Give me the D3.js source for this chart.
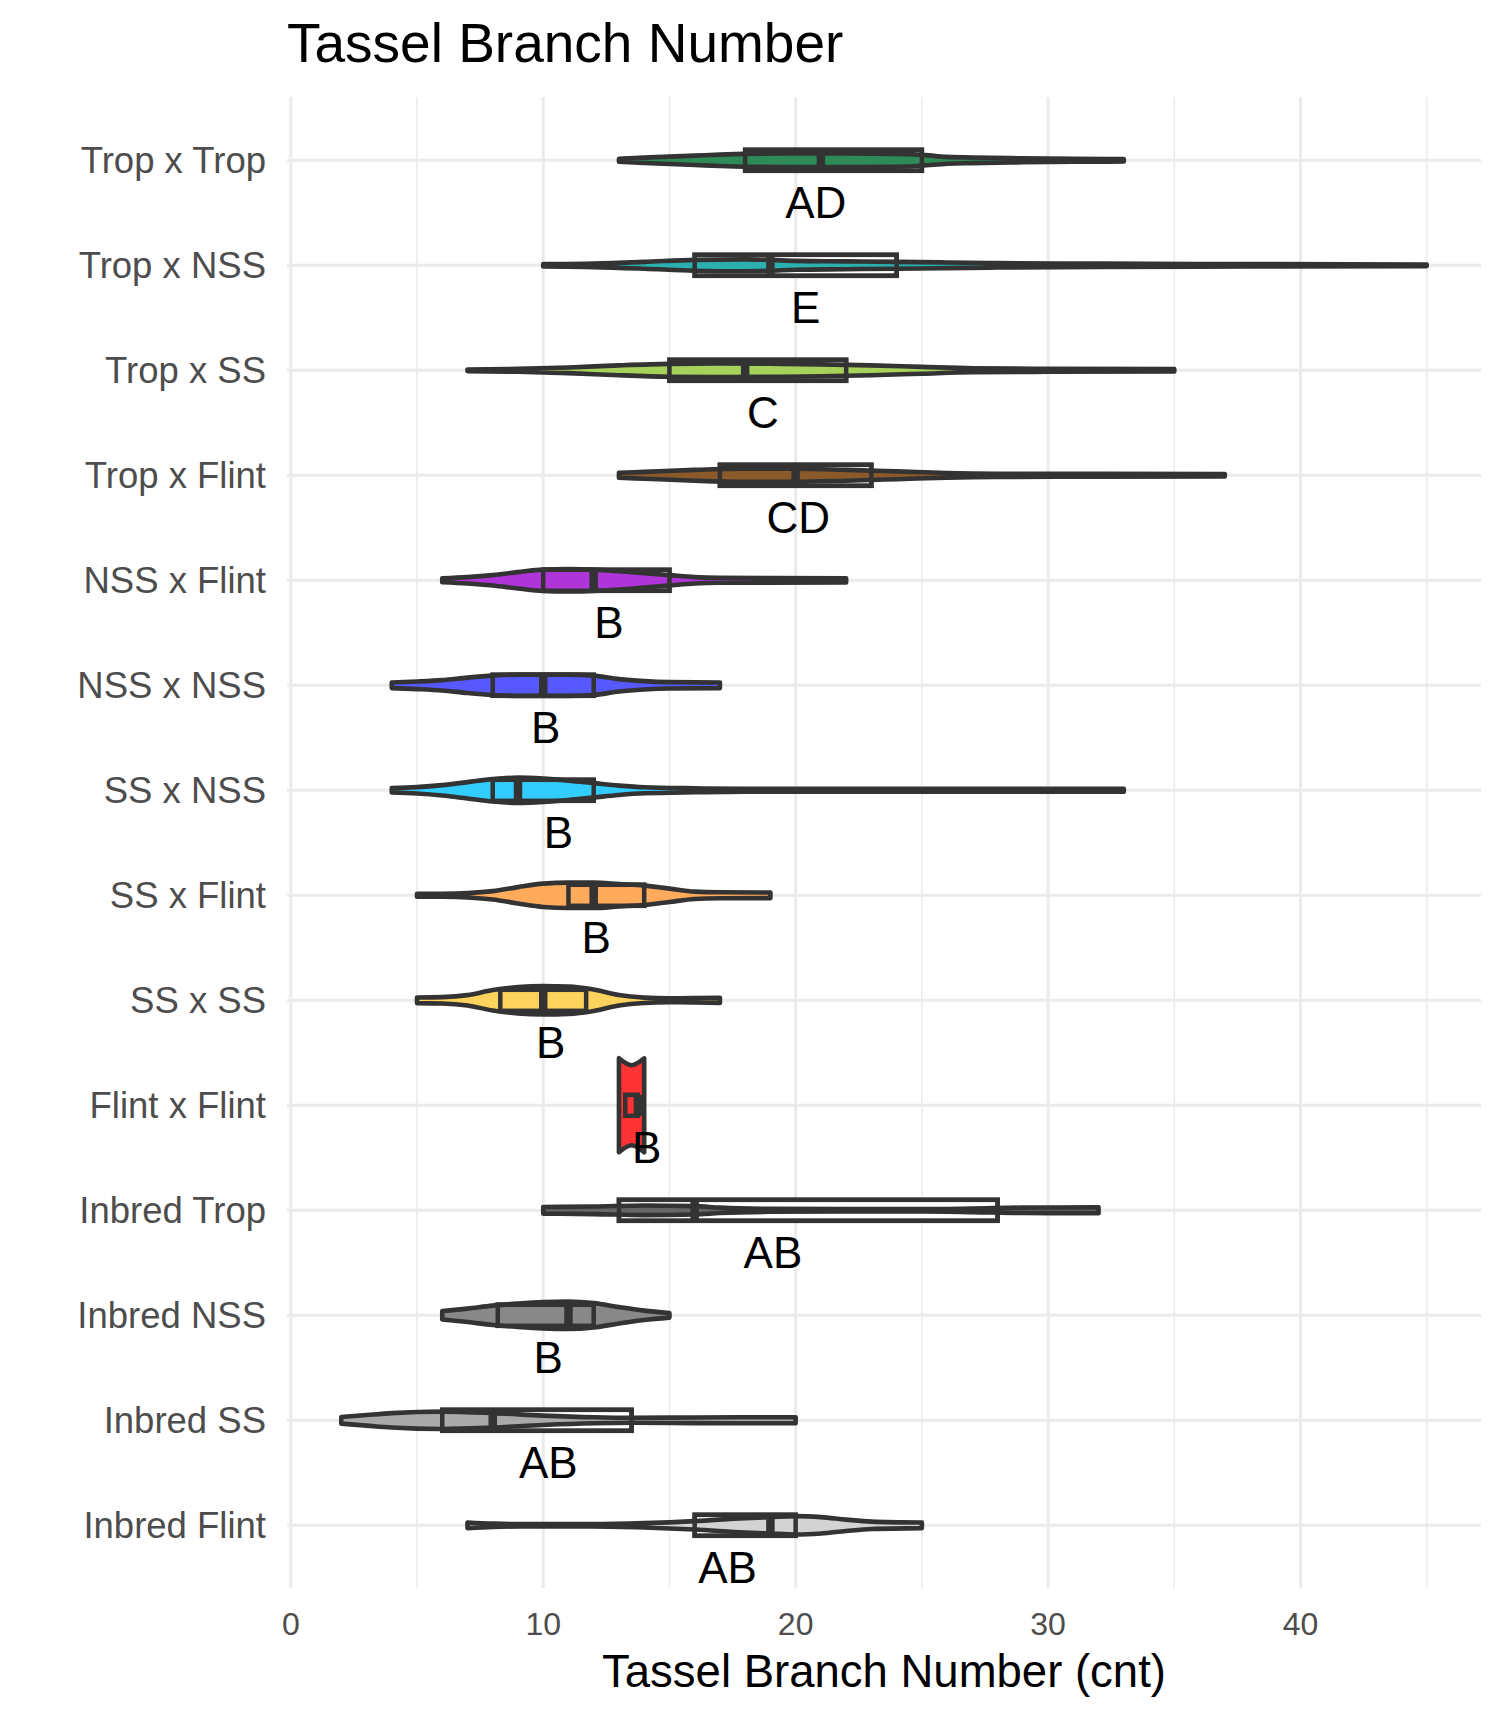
<!DOCTYPE html>
<html><head><meta charset="utf-8">
<script src="https://cdn.jsdelivr.net/npm/d3@7"></script>
<style>body{margin:0;background:#fff} svg{display:block}</style>
</head><body>
<svg id="chart" width="1504" height="1720"></svg>
<script>
const categories = ["Trop x Trop","Trop x NSS","Trop x SS","Trop x Flint","NSS x Flint","NSS x NSS","SS x NSS","SS x Flint","SS x SS","Flint x Flint","Inbred Trop","Inbred NSS","Inbred SS","Inbred Flint"];
const fillColors = ["#2E8B57","#2BAFAF","#A6D15B","#8B5A2B","#B035D8","#5858FF","#33CCFF","#FFAB5B","#FDD35E","#FF3333","#666666","#888888","#AAAAAA","#D3D3D3"];
const q1Values = [18,16,15,17,10,8,8,11,8.3,13.25,13,8.2,6,16];
const medianValues = [21,19,18,20,12,10,9,12,10,13.75,16,11,8,19];
const q3Values = [25,24,22,23,15,12,12,14,11.7,13.75,28,12,13.5,20];
const letterLabels = ["AD","E","C","CD","B","B","B","B","B","B","AB","B","AB","AB"];
const letterX = [20.8,20.4,18.7,20.1,12.6,10.1,10.6,12.1,10.3,14.1,19.1,10.2,10.2,17.3];
const densityX = [
  [13,14,15,16,17,18,20,22,24,25,26,27,29,31,33],
  [10,12,14,16,18,19,20,22,24,26,28,32,38,45],
  [7,9,11,13,15,17,19,21,23,25,27,30,35],
  [13,14,16,18,20,22,24,26,28,32,37],
  [6,7,8,9,10,11,12,13,14,15,16,17,19,22],
  [4,5,6,7,8,9,10,11,12,13,14,15,17],
  [4,5,6,7,8,9,10,11,12,13,14,16,18,25,33],
  [5,6,7,8,9,10,11,12,13,14,15,16,17,19],
  [5,6,7,8,9,10,11,12,13,14,15,16,17],
  [13,13.5,14],
  [10,12,14,16,17,19,22,25,27,29,32],
  [6,7,8,9,10,11,12,13,14,15],
  [2,3,4,6,8,10,12,13.5,16,18,20],
  [7,8,9,12,14,16,18,19,20,21,22,23,25]
];
const densityY = [
  [0.15,0.27,0.37,0.47,0.57,0.64,0.68,0.68,0.64,0.54,0.34,0.28,0.2,0.15,0.12],
  [0.12,0.18,0.34,0.54,0.59,0.54,0.44,0.39,0.34,0.28,0.22,0.17,0.12,0.08],
  [0.08,0.14,0.28,0.49,0.64,0.68,0.65,0.59,0.49,0.34,0.2,0.15,0.12],
  [0.25,0.34,0.54,0.65,0.65,0.54,0.39,0.23,0.16,0.14,0.12],
  [0.2,0.32,0.52,0.82,1.07,1.12,1.07,0.92,0.72,0.52,0.32,0.25,0.23,0.21],
  [0.28,0.38,0.52,0.77,0.97,1.07,1.07,1.07,0.97,0.62,0.42,0.32,0.28],
  [0.22,0.32,0.52,0.82,1.12,1.27,1.17,0.97,0.72,0.47,0.3,0.2,0.15,0.14,0.14],
  [0.14,0.15,0.22,0.42,0.82,1.17,1.27,1.27,1.12,0.97,0.67,0.37,0.3,0.28],
  [0.28,0.32,0.52,1.02,1.32,1.42,1.37,1.07,0.52,0.27,0.2,0.22,0.26],
  [4.7,4.0,4.7],
  [0.33,0.38,0.48,0.42,0.27,0.15,0.12,0.12,0.18,0.27,0.3],
  [0.42,0.67,0.97,1.17,1.32,1.37,1.22,0.82,0.47,0.23],
  [0.33,0.53,0.72,0.87,0.72,0.47,0.3,0.25,0.28,0.3,0.3],
  [0.28,0.17,0.12,0.12,0.22,0.42,0.72,0.82,0.92,0.82,0.57,0.37,0.28]
];
const majorTicks = [0,10,20,30,40];
const minorTicks = [5,15,25,35,45];
const titleText = "Tassel Branch Number";
const xTitleText = "Tassel Branch Number (cnt)";

const FONT = "'Liberation Sans', Arial, Helvetica, sans-serif";
const DARK = "#333333";
const svg = d3.select("#chart");
const panel = {left: 287, right: 1481, top: 97, bottom: 1588};
const x = d3.scaleLinear().domain([-0.15, 47.15]).range([panel.left, panel.right]);
const y = d3.scalePoint().domain(categories).range([160.3, 1525.3]);
const w = d3.scaleLinear().domain([0, 1]).range([0, 10]);
const boxHalf = 10.5;

svg.append("rect").attr("width",1504).attr("height",1720).attr("fill","#fff");

const grid = svg.append("g");
grid.selectAll(".minor").data(minorTicks).join("line")
  .attr("x1", d=>x(d)).attr("x2", d=>x(d)).attr("y1", panel.top).attr("y2", panel.bottom)
  .attr("stroke", "#EBEBEB").attr("stroke-width", 1.6);
grid.selectAll(".major").data(majorTicks).join("line")
  .attr("x1", d=>x(d)).attr("x2", d=>x(d)).attr("y1", panel.top).attr("y2", panel.bottom)
  .attr("stroke", "#EBEBEB").attr("stroke-width", 3);
grid.selectAll(".hmajor").data(categories).join("line")
  .attr("x1", panel.left).attr("x2", panel.right).attr("y1", d=>y(d)).attr("y2", d=>y(d))
  .attr("stroke", "#EBEBEB").attr("stroke-width", 3);

const area = (yc) => d3.area().curve(d3.curveMonotoneX)
  .x(d=>x(d[0])).y0(d=>yc - w(d[1])).y1(d=>yc + w(d[1]));

categories.forEach((c, i) => {
  const yc = y(c);
  const pts = densityX[i].map((v, j) => [v, densityY[i][j]]);
  const g = svg.append("g");
  const bx = x(q1Values[i]), bw = Math.max(0, x(q3Values[i]) - x(q1Values[i]));
  g.append("rect").attr("x", bx).attr("width", bw)
    .attr("y", yc - boxHalf).attr("height", boxHalf*2).attr("fill", "#fff").attr("stroke", DARK).attr("stroke-width", 4.5);
  g.append("path").attr("d", area(yc)(pts)).attr("fill", fillColors[i])
    .attr("stroke", DARK).attr("stroke-width", 4.6).attr("stroke-linejoin", "round");
  g.append("rect").attr("x", bx).attr("width", bw)
    .attr("y", yc - boxHalf).attr("height", boxHalf*2).attr("fill", "none").attr("stroke", DARK).attr("stroke-width", 4.5);
  g.append("line").attr("x1", x(medianValues[i])).attr("x2", x(medianValues[i]))
    .attr("y1", yc - boxHalf).attr("y2", yc + boxHalf).attr("stroke", DARK).attr("stroke-width", 8.5);
  svg.append("text").attr("x", x(letterX[i])).attr("y", yc + 58).attr("text-anchor", "middle")
    .attr("font-family", FONT).attr("font-size", 44).attr("fill", "#000").text(letterLabels[i]);
});

svg.append("g").selectAll("text").data(categories).join("text")
  .attr("x", 266).attr("y", d=>y(d)).attr("dy", "0.36em").attr("text-anchor", "end")
  .attr("font-family", FONT).attr("font-size", 36.5).attr("fill", "#4D4D4D").text(d=>d);
svg.append("g").selectAll("text").data(majorTicks).join("text")
  .attr("x", d=>x(d)).attr("y", 1635).attr("text-anchor", "middle")
  .attr("font-family", FONT).attr("font-size", 32).attr("fill", "#4D4D4D").text(d=>d);
svg.append("text").attr("x", (panel.left+panel.right)/2).attr("y", 1687).attr("text-anchor", "middle")
  .attr("font-family", FONT).attr("font-size", 45.5).attr("fill", "#000").text(xTitleText);
svg.append("text").attr("x", 287).attr("y", 62).attr("font-family", FONT).attr("font-size", 55)
  .attr("fill", "#000").text(titleText);
</script>
</body></html>
